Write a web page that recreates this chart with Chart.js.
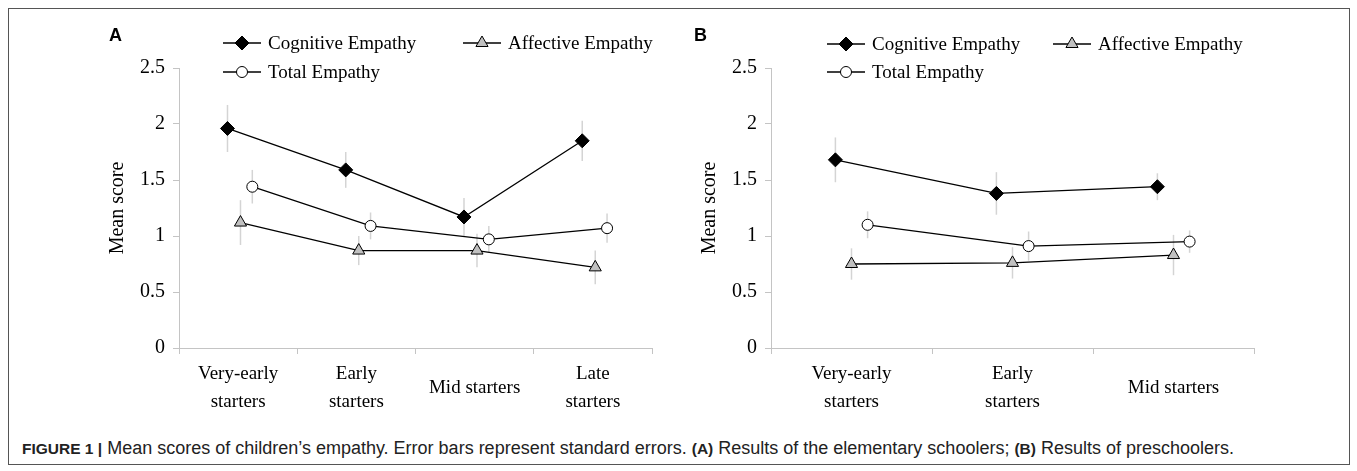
<!DOCTYPE html>
<html lang="en">
<head>
    <meta charset="UTF-8">
    <title>Mean scores of children's empathy</title>
    <script src="https://cdn.jsdelivr.net/npm/chart.js"></script>
    <style>
        body {
            margin: 0;
            background: white;
            font-family: "Liberation Sans", Arial, sans-serif;
        }
        .frame {
            position: absolute;
            left: 8px;
            top: 8px;
            width: 1340px;
            height: 455px;
            border: 1px solid #555;
        }
        .panel {
            position: absolute;
            top: 0;
            height: 430px;
        }
        .tag {
            position: absolute;
            top: 25px;
            font: bold 18px "Liberation Sans", Arial, sans-serif;
        }
        .caption {
            position: absolute;
            left: 22px;
            top: 438px;
            font-size: 18px;
            color: #222;
        }
        .caption b {
            font-size: 15.5px;
        }
    </style>
</head>
<body>
    <div class="frame"></div>
    <div class="panel" style="left:0;width:680px"><canvas id="chartA" width="680" height="430"></canvas></div>
    <div class="panel" style="left:680px;width:677px"><canvas id="chartB" width="677" height="430"></canvas></div>
    <div class="tag" style="left:109px">A</div>
    <div class="tag" style="left:694px">B</div>
    <div class="caption"><b>FIGURE 1 |</b> Mean scores of children’s empathy. Error bars represent standard errors. <b>(A)</b> Results of the elementary schoolers; <b>(B)</b> Results of preschoolers.</div>
    <script>
        // panel A: elementary schoolers
        const catsA = [["Very-early", "starters"], ["Early", "starters"], "Mid starters", ["Late", "starters"]];
        const cogA = [1.96, 1.59, 1.17, 1.85];
        const cogErrA = [0.21, 0.16, 0.17, 0.18];
        const affA = [1.12, 0.87, 0.87, 0.72];
        const affErrA = [0.2, 0.13, 0.15, 0.15];
        const totA = [1.44, 1.09, 0.97, 1.07];
        const totErrA = [0.15, 0.12, 0.12, 0.13];

        // panel B: preschoolers
        const catsB = [["Very-early", "starters"], ["Early", "starters"], "Mid starters"];
        const cogB = [1.68, 1.38, 1.44];
        const cogErrB = [0.2, 0.19, 0.12];
        const affB = [0.75, 0.76, 0.83];
        const affErrB = [0.14, 0.14, 0.18];
        const totB = [1.10, 0.91, 0.95];
        const totErrB = [0.12, 0.13, 0.1];

        const seriesNames = ["Cognitive Empathy", "Affective Empathy", "Total Empathy"];
        const yTicks = [0, 0.5, 1, 1.5, 2, 2.5];

        const serif = "'Liberation Serif', 'Times New Roman', serif";
        const axisGray = "#c4c4c4";

        const styles = [
            { pointStyle: "rectRot", pointRadius: 7, pointBackgroundColor: "#000" },
            { pointStyle: "triangle", pointRadius: 7, pointBackgroundColor: "#c0c0c0" },
            { pointStyle: "circle", pointRadius: 5.5, pointBackgroundColor: "#fff" }
        ];

        function toPoints(values, shift) {
            return values.map((v, i) => ({ x: i + shift, y: v }));
        }

        // light grey vertical standard error bars behind the lines
        const errorBars = {
            id: "errorBars",
            beforeDatasetsDraw(chart) {
                const ctx = chart.ctx;
                const y = chart.scales.y;
                ctx.save();
                ctx.strokeStyle = "#d4d4d4";
                ctx.lineWidth = 1.5;
                chart.data.datasets.forEach((ds, d) => {
                    chart.getDatasetMeta(d).data.forEach((pt, i) => {
                        const v = ds.data[i].y, e = ds.errors[i];
                        ctx.beginPath();
                        ctx.moveTo(pt.x, y.getPixelForValue(v + e));
                        ctx.lineTo(pt.x, y.getPixelForValue(v - e));
                        ctx.stroke();
                    });
                });
                ctx.restore();
            }
        };

        function drawMarker(ctx, style, x, y) {
            const r = style.pointRadius;
            ctx.beginPath();
            if (style.pointStyle === "rectRot") {
                ctx.moveTo(x - r, y); ctx.lineTo(x, y - r); ctx.lineTo(x + r, y); ctx.lineTo(x, y + r);
                ctx.closePath();
            } else if (style.pointStyle === "triangle") {
                ctx.moveTo(x, y - r);
                ctx.lineTo(x + r * 0.866, y + r / 2);
                ctx.lineTo(x - r * 0.866, y + r / 2);
                ctx.closePath();
            } else {
                ctx.arc(x, y, r, 0, Math.PI * 2);
            }
            ctx.fillStyle = style.pointBackgroundColor;
            ctx.fill();
            ctx.stroke();
        }

        // Excel-like legend: line with marker, then the name
        const lineLegend = {
            id: "lineLegend",
            afterDraw(chart, args, opts) {
                const ctx = chart.ctx;
                const left = chart.chartArea.left;
                ctx.save();
                ctx.font = "19px " + serif;
                ctx.textBaseline = "middle";
                ctx.strokeStyle = "#000";
                ctx.lineWidth = 1.3;
                opts.items.forEach((it, d) => {
                    const x = left + it.x, y = it.y;
                    ctx.beginPath();
                    ctx.moveTo(x, y);
                    ctx.lineTo(x + 38, y);
                    ctx.stroke();
                    ctx.lineWidth = 1;
                    drawMarker(ctx, styles[d], x + 19, y);
                    ctx.lineWidth = 1.3;
                    ctx.fillStyle = "#000";
                    ctx.fillText(seriesNames[d], x + 45, y + 1);
                });
                ctx.restore();
            }
        };

        function makePanel(id, cats, values, errors, shifts, pad, legendItems) {
            const datasets = values.map((vals, d) => Object.assign({
                label: seriesNames[d],
                data: toPoints(vals, shifts[d]),
                errors: errors[d],
                xAxisID: "xp",
                borderColor: "#000",
                borderWidth: 1.3,
                pointBorderColor: "#000",
                pointBorderWidth: 1,
                tension: 0
            }, styles[d]));

            new Chart(document.getElementById(id), {
                type: "line",
                data: { labels: cats, datasets: datasets },
                options: {
                    responsive: false,
                    animation: false,
                    layout: { padding: pad },
                    plugins: {
                        legend: { display: false },
                        tooltip: { enabled: false },
                        lineLegend: { items: legendItems }
                    },
                    scales: {
                        x: {
                            type: "category",
                            offset: true,
                            afterFit: s => { s.height = 70; },
                            grid: { offset: true, drawOnChartArea: false, tickLength: 6, color: axisGray },
                            border: { color: axisGray },
                            ticks: { color: "#000", font: { family: serif, size: 19, lineHeight: 1.5 }, padding: 20, maxRotation: 0, crossAlign: "center" }
                        },
                        xp: {
                            type: "linear",
                            display: false,
                            min: -0.5,
                            max: cats.length - 0.5
                        },
                        y: {
                            min: 0,
                            max: 2.5,
                            afterFit: s => { s.width = 75; },
                            afterBuildTicks: s => { s.ticks = yTicks.map(v => ({ value: v })); },
                            grid: { drawOnChartArea: false, tickLength: 6, color: axisGray },
                            border: { color: axisGray },
                            ticks: { color: "#000", font: { family: serif, size: 20 }, padding: 8, callback: v => String(v) },
                            title: { display: true, text: "Mean score", color: "#000", font: { family: serif, size: 20 }, padding: 2 }
                        }
                    }
                },
                plugins: [errorBars, lineLegend]
            });
        }

        makePanel("chartA", catsA, [cogA, affA, totA], [cogErrA, affErrA, totErrA],
            [-0.09, 0.02, 0.12],
            { left: 104, right: 28, top: 68, bottom: 12 },
            [{ x: 44, y: 43 }, { x: 284, y: 43 }, { x: 44, y: 72 }]);

        makePanel("chartB", catsB, [cogB, affB, totB], [cogErrB, affErrB, totErrB],
            [-0.1, 0, 0.1],
            { left: 16, right: 103, top: 68, bottom: 12 },
            [{ x: 56, y: 44 }, { x: 282, y: 44 }, { x: 56, y: 72 }]);
    </script>
</body>
</html>
